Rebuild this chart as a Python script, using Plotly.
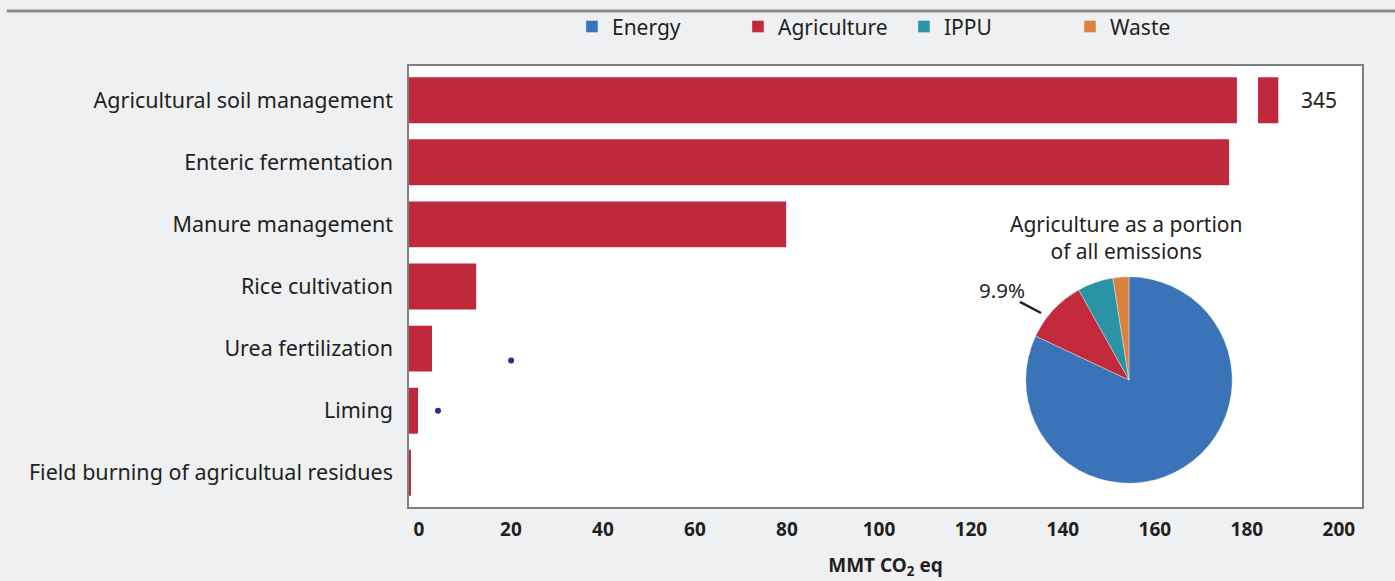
import plotly.graph_objects as go

# Agricultural emission sources (MMT CO2 eq), top to bottom
sources = [
    "Agricultural soil management",
    "Enteric fermentation",
    "Manure management",
    "Rice cultivation",
    "Urea fertilization",
    "Liming",
    "Field burning of agricultual residues",
]
emissions = [345, 178.3, 82.0, 14.6, 5.0, 1.96, 0.4]

# Axis break used for values beyond the visible range
break_start = 180.0
stub_start = 184.6
stub_end = 189.0

# Stray marker points
dot_x = [22.2, 6.3]
dot_source = ["Urea fertilization", "Liming"]
dot_offset = [0.19, 0.0]

# Share of all emissions by sector (%)
sectors = ["Energy", "Agriculture", "IPPU", "Waste"]
sector_share = [82.0, 9.9, 5.6, 2.5]
sector_colors = ["#3a73b8", "#c22a3b", "#2a93a5", "#d9823f"]

x_ticks = [0, 20, 40, 60, 80, 100, 120, 140, 160, 180, 200]

pie_title = ["Agriculture as a portion", "of all emissions"]

BAR_COLOR = "#c0293b"
TEXT = "#231f20"
FONT = "Noto Sans"

n = len(sources)
ypos = list(range(n))  # 0 at the top (axis reversed)

x_max = 207.2

main_len = [min(v, break_start) for v in emissions]

fig = go.Figure()

fig.add_trace(go.Bar(
    x=main_len, y=ypos, orientation="h", width=0.74,
    marker=dict(color=BAR_COLOR, line=dict(width=0)),
    showlegend=False, hoverinfo="skip",
))

# Continuation stub for values that exceed the break
broken = [i for i, v in enumerate(emissions) if v > x_max]
fig.add_trace(go.Bar(
    x=[stub_end - stub_start for _ in broken],
    base=[stub_start for _ in broken],
    y=[ypos[i] for i in broken], orientation="h", width=0.74,
    marker=dict(color=BAR_COLOR, line=dict(width=0)),
    showlegend=False, hoverinfo="skip",
))
for i in broken:
    fig.add_annotation(
        x=stub_end, y=ypos[i], xref="x", yref="y",
        text=f"{emissions[i]:g}", showarrow=False,
        xanchor="left", xshift=21,
        font=dict(family=FONT, size=21, color=TEXT),
    )

fig.add_trace(go.Scatter(
    x=dot_x,
    y=[sources.index(s) + o for s, o in zip(dot_source, dot_offset)],
    mode="markers", marker=dict(color="#2b2d8a", size=6),
    showlegend=False, hoverinfo="skip",
))

fig.add_trace(go.Pie(
    labels=sectors, values=sector_share, sort=False,
    direction="clockwise", rotation=0,
    marker=dict(colors=sector_colors, line=dict(color="rgba(255,255,255,0.35)", width=1)),
    textinfo="none", hoverinfo="skip",
    domain=dict(x=[0.647, 0.864], y=[0.054, 0.522]),
    showlegend=True,
))

# Leader line and label for the agriculture slice
agri = sector_share[sectors.index("Agriculture")]
fig.add_shape(
    type="line", xref="paper", yref="paper",
    x0=0.6411, y0=0.4649, x1=0.6632, y1=0.4399,
    line=dict(color=TEXT, width=2.5),
)
fig.add_annotation(
    x=0.6485, y=0.492, xref="paper", yref="paper",
    text=f"{agri:g}%", showarrow=False,
    xanchor="right", yanchor="middle",
    font=dict(family=FONT, size=20.5, color=TEXT),
)

# Two-line title above the pie
fig.add_annotation(
    x=0.753, y=0.612, xref="paper", yref="paper",
    text="<br>".join(pie_title), showarrow=False, align="center",
    xanchor="center", yanchor="middle",
    font=dict(family=FONT, size=21, color=TEXT),
)

# Rule across the top of the figure
fig.add_shape(
    type="line", xref="paper", yref="paper",
    x0=-0.422, x1=1.04, y0=1.1247, y1=1.1247,
    line=dict(color="#8a8a8a", width=3),
)

fig.update_layout(
    width=1395, height=581,
    margin=dict(l=409, r=33, t=66, b=74, autoexpand=False),
    paper_bgcolor="#eff0f2", plot_bgcolor="#ffffff",
    font=dict(family=FONT, color=TEXT),
    barmode="overlay", bargap=0.26,
    legend=dict(
        orientation="h", x=0.171, y=1.089, xanchor="left", yanchor="middle",
        font=dict(family=FONT, size=21, color=TEXT),
        entrywidth=121, entrywidthmode="pixels", traceorder="normal",
        bgcolor="rgba(0,0,0,0)",
    ),
    xaxis=dict(
        range=[0, x_max], tickvals=x_ticks, ticktext=[str(t) for t in x_ticks],
        showgrid=False, zeroline=False, ticks="", automargin=False,
        showline=True, mirror=True, linecolor="#7f7f7f", linewidth=1.5,
        tickfont=dict(family=FONT, size=19, color=TEXT, weight="bold"),
        ticklabelshift=10, ticklabelstandoff=4,
        title=dict(text="MMT CO<sub>2</sub> eq", standoff=18,
                   font=dict(family=FONT, size=19, color=TEXT, weight="bold")),
    ),
    yaxis=dict(
        range=[n - 0.45, -0.55], tickvals=ypos, ticktext=sources,
        showgrid=False, zeroline=False, ticks="", automargin=False,
        showline=True, mirror=True, linecolor="#7f7f7f", linewidth=1.5,
        tickfont=dict(family=FONT, size=21.5, color=TEXT),
        ticklabelstandoff=10,
    ),
)

fig.write_html("out.html")
